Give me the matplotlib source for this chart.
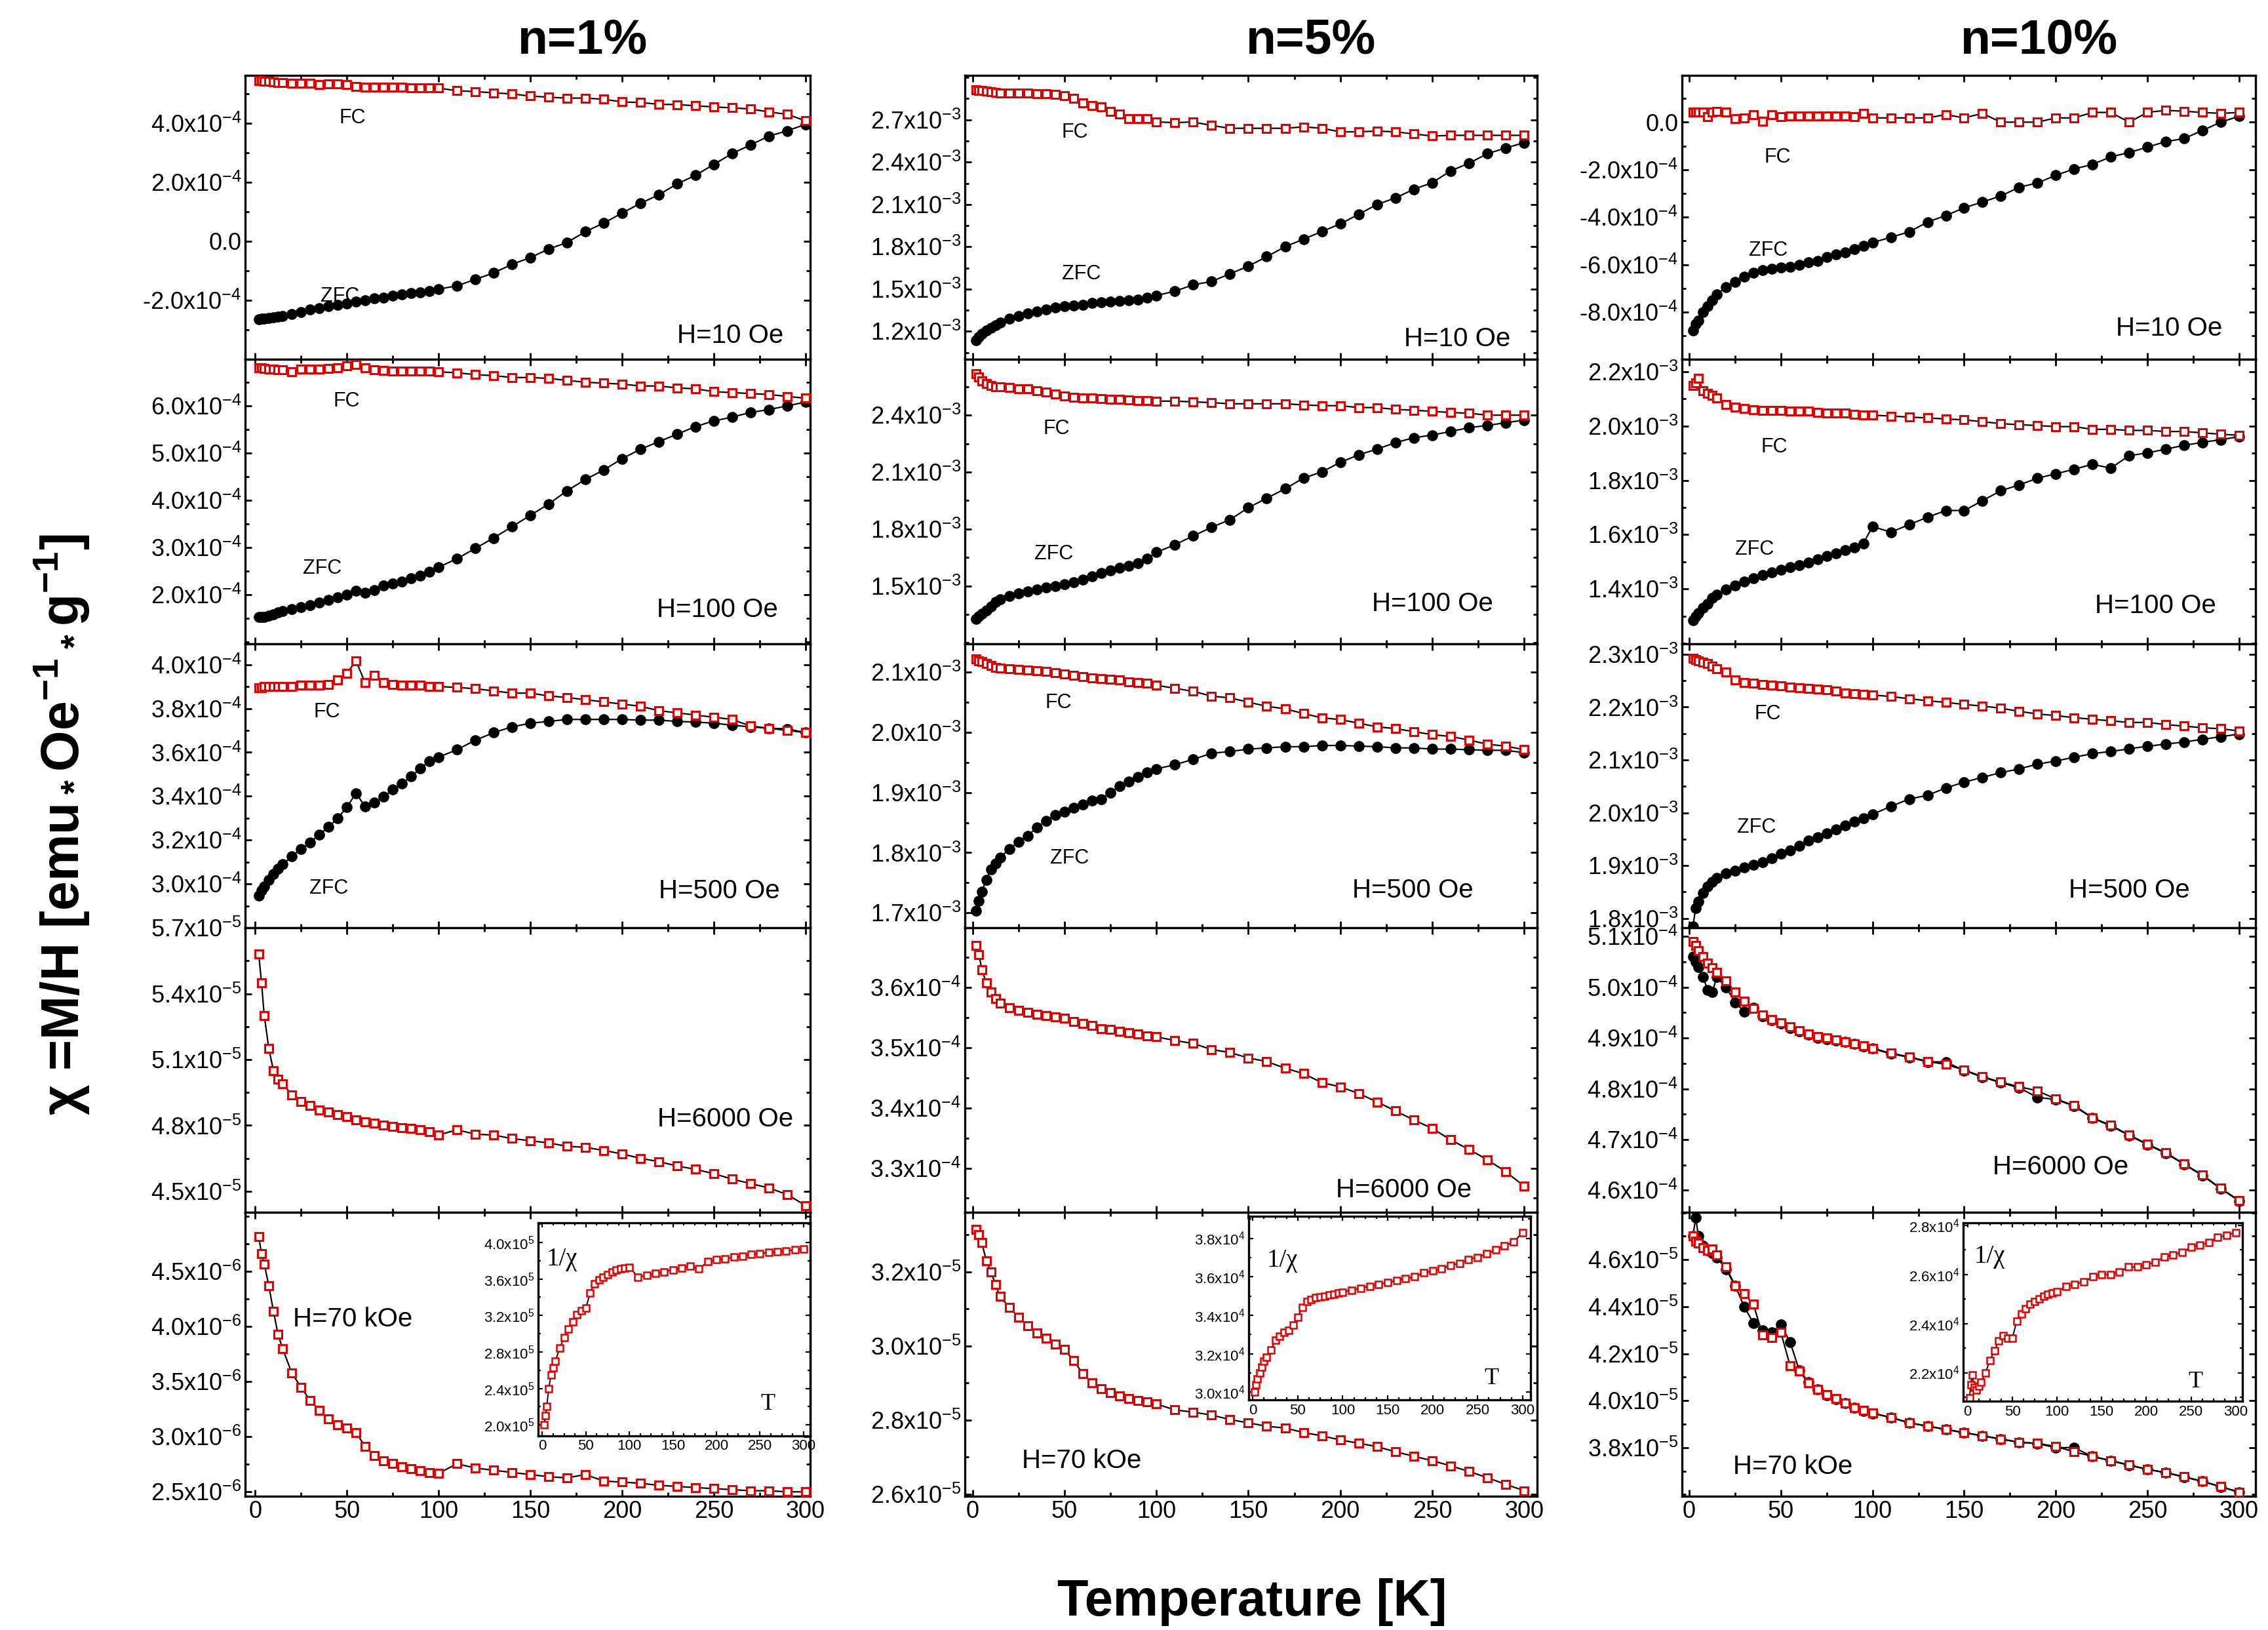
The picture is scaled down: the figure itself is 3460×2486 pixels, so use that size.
import matplotlib
matplotlib.use('Agg')
import matplotlib.pyplot as plt
import numpy as np
from matplotlib.ticker import FixedLocator, FuncFormatter, MultipleLocator

plt.rcParams['font.family'] = ['Liberation Sans', 'DejaVu Sans']
plt.rcParams['mathtext.default'] = 'regular'

RED = '#e00000'

# temperature grid (K), common to all curves
T = [2, 3.5, 5, 7.5, 10, 12.5, 15, 20, 25, 30, 35, 40, 45, 50, 55, 60, 65, 70, 75, 80,
     85, 90, 95, 100, 110, 120, 130, 140, 150, 160, 170, 180, 190, 200, 210, 220, 230,
     240, 250, 260, 270, 280, 290, 300]

# ---------- n = 1 % ----------
fc_n1_h10 = [5.45, 5.45, 5.42, 5.42, 5.40, 5.38, 5.38, 5.36, 5.36, 5.35, 5.30, 5.34, 5.34, 5.30,
             5.25, 5.22, 5.21, 5.21, 5.21, 5.21, 5.20, 5.20, 5.20, 5.19, 5.10, 5.07, 5.03, 4.99,
             4.92, 4.88, 4.85, 4.85, 4.81, 4.72, 4.70, 4.64, 4.63, 4.59, 4.55, 4.52, 4.48, 4.38,
             4.30, 4.08]  # x1e-4
zfc_n1_h10 = [-2.65, -2.64, -2.63, -2.61, -2.59, -2.56, -2.54, -2.48, -2.40, -2.33, -2.28, -2.22,
              -2.16, -2.11, -2.05, -2.00, -1.95, -1.91, -1.86, -1.81, -1.77, -1.74, -1.69, -1.63,
              -1.52, -1.30, -1.08, -0.79, -0.56, -0.27, -0.05, 0.32, 0.61, 0.95, 1.28, 1.57, 1.94,
              2.23, 2.60, 2.97, 3.26, 3.56, 3.74, 3.96]
fc_n1_h100 = [6.80, 6.80, 6.79, 6.78, 6.78, 6.77, 6.77, 6.72, 6.78, 6.78, 6.78, 6.79, 6.80, 6.84,
              6.88, 6.80, 6.76, 6.75, 6.74, 6.74, 6.74, 6.74, 6.73, 6.72, 6.70, 6.66, 6.64, 6.60,
              6.60, 6.58, 6.54, 6.50, 6.48, 6.46, 6.42, 6.42, 6.38, 6.36, 6.30, 6.28, 6.26, 6.24,
              6.20, 6.16]
zfc_n1_h100 = [1.52, 1.52, 1.53, 1.55, 1.58, 1.62, 1.65, 1.69, 1.74, 1.78, 1.83, 1.89, 1.95, 2.00,
               2.08, 2.04, 2.10, 2.20, 2.24, 2.28, 2.34, 2.40, 2.48, 2.58, 2.76, 2.98, 3.20, 3.44,
               3.68, 3.92, 4.20, 4.44, 4.64, 4.88, 5.08, 5.24, 5.40, 5.56, 5.68, 5.76, 5.86, 5.92,
               6.00, 6.08]
fc_n1_h500 = [3.895, 3.895, 3.90, 3.90, 3.90, 3.90, 3.90, 3.90, 3.905, 3.905, 3.905, 3.91, 3.93,
              3.96, 4.017, 3.917, 3.95, 3.917, 3.91, 3.905, 3.905, 3.905, 3.90, 3.90, 3.896, 3.89,
              3.88, 3.87, 3.87, 3.857, 3.85, 3.84, 3.83, 3.82, 3.81, 3.79, 3.78, 3.77, 3.76, 3.75,
              3.72, 3.71, 3.70, 3.69]
zfc_n1_h500 = [2.948, 2.97, 2.99, 3.02, 3.045, 3.07, 3.09, 3.125, 3.16, 3.19, 3.225, 3.26, 3.30,
               3.35, 3.414, 3.353, 3.37, 3.397, 3.43, 3.457, 3.49, 3.526, 3.56, 3.578, 3.612,
               3.655, 3.69, 3.716, 3.733, 3.741, 3.75, 3.75, 3.75, 3.75, 3.747, 3.747, 3.741,
               3.738, 3.733, 3.724, 3.716, 3.71, 3.707, 3.69]
fc_n1_h6000 = [5.58, 5.45, 5.30, 5.15, 5.05, 5.01, 4.99, 4.94, 4.91, 4.89, 4.87, 4.86, 4.85, 4.84,
               4.825, 4.815, 4.81, 4.80, 4.795, 4.79, 4.785, 4.78, 4.77, 4.756, 4.78, 4.76, 4.756,
               4.74, 4.73, 4.72, 4.705, 4.70, 4.686, 4.67, 4.65, 4.635, 4.615, 4.60, 4.58, 4.555,
               4.535, 4.515, 4.485, 4.435]  # x1e-5
fc_n1_h70k = [4.82, 4.66, 4.57, 4.37, 4.14, 3.93, 3.80, 3.58, 3.45, 3.33, 3.24, 3.16, 3.11, 3.08,
              3.04, 2.91, 2.83, 2.78, 2.755, 2.73, 2.71, 2.69, 2.675, 2.667, 2.755, 2.716, 2.696,
              2.676, 2.657, 2.637, 2.627, 2.657, 2.598, 2.588, 2.578, 2.559, 2.549, 2.539, 2.529,
              2.52, 2.51, 2.51, 2.50, 2.50]  # x1e-6
inv_n1 = [2.0, 2.1, 2.2, 2.4, 2.55, 2.63, 2.70, 2.84, 2.96, 3.05, 3.13, 3.21, 3.25, 3.28, 3.45,
          3.55, 3.59, 3.62, 3.65, 3.68, 3.70, 3.71, 3.72, 3.73, 3.62, 3.64, 3.66, 3.68, 3.70,
          3.72, 3.74, 3.71, 3.79, 3.81, 3.82, 3.84, 3.85, 3.87, 3.88, 3.89, 3.90, 3.91, 3.92,
          3.93]  # x1e5

# ---------- n = 5 % ----------
fc_n5_h10 = [2.915, 2.91, 2.91, 2.905, 2.90, 2.895, 2.89, 2.89, 2.89, 2.89, 2.887, 2.885, 2.88,
             2.87, 2.85, 2.82, 2.80, 2.79, 2.76, 2.74, 2.71, 2.71, 2.71, 2.685, 2.68, 2.685, 2.66,
             2.64, 2.64, 2.64, 2.64, 2.65, 2.64, 2.615, 2.615, 2.62, 2.615, 2.60, 2.585, 2.59,
             2.59, 2.59, 2.59, 2.59]  # x1e-3
zfc_n5_h10 = [1.138, 1.16, 1.185, 1.205, 1.223, 1.245, 1.26, 1.29, 1.31, 1.325, 1.34, 1.355,
              1.37, 1.38, 1.385, 1.39, 1.40, 1.405, 1.41, 1.415, 1.42, 1.425, 1.44, 1.454, 1.485,
              1.53, 1.554, 1.608, 1.662, 1.73, 1.80, 1.854, 1.908, 1.962, 2.03, 2.10, 2.146,
              2.208, 2.254, 2.338, 2.392, 2.46, 2.50, 2.538]
fc_n5_h100 = [2.62, 2.60, 2.58, 2.565, 2.555, 2.55, 2.55, 2.545, 2.54, 2.54, 2.53, 2.52, 2.51,
              2.50, 2.495, 2.49, 2.49, 2.488, 2.485, 2.484, 2.48, 2.478, 2.476, 2.474, 2.474, 2.47,
              2.466, 2.46, 2.46, 2.46, 2.46, 2.454, 2.45, 2.45, 2.44, 2.44, 2.43, 2.426, 2.42,
              2.414, 2.41, 2.40, 2.40, 2.40]
zfc_n5_h100 = [1.325, 1.34, 1.355, 1.37, 1.39, 1.415, 1.43, 1.447, 1.462, 1.472, 1.48, 1.49,
               1.50, 1.51, 1.52, 1.532, 1.55, 1.566, 1.58, 1.594, 1.606, 1.618, 1.645, 1.677,
               1.717, 1.763, 1.809, 1.849, 1.912, 1.962, 2.012, 2.068, 2.101, 2.151, 2.191, 2.221,
               2.255, 2.281, 2.295, 2.314, 2.334, 2.346, 2.36, 2.374]
fc_n5_h500 = [2.122, 2.119, 2.117, 2.114, 2.111, 2.108, 2.107, 2.105, 2.104, 2.103, 2.102, 2.101,
              2.099, 2.097, 2.095, 2.092, 2.09, 2.089, 2.088, 2.087, 2.084, 2.083, 2.081, 2.078,
              2.073, 2.068, 2.06, 2.057, 2.05, 2.043, 2.039, 2.031, 2.024, 2.021, 2.015, 2.009,
              2.006, 2.001, 1.996, 1.993, 1.987, 1.98, 1.977, 1.971]
zfc_n5_h500 = [1.703, 1.72, 1.735, 1.755, 1.772, 1.782, 1.792, 1.806, 1.818, 1.828, 1.842, 1.853,
               1.862, 1.868, 1.875, 1.88, 1.886, 1.889, 1.90, 1.911, 1.918, 1.926, 1.933, 1.939,
               1.946, 1.955, 1.965, 1.968, 1.972, 1.974, 1.976, 1.976, 1.978, 1.978, 1.977, 1.976,
               1.974, 1.974, 1.972, 1.972, 1.971, 1.97, 1.97, 1.966]
fc_n5_h6000 = [3.67, 3.655, 3.63, 3.608, 3.593, 3.582, 3.574, 3.566, 3.562, 3.559, 3.556, 3.553,
               3.551, 3.549, 3.544, 3.54, 3.537, 3.532, 3.53, 3.527, 3.525, 3.523, 3.52, 3.518,
               3.512, 3.507, 3.497, 3.492, 3.483, 3.477, 3.466, 3.457, 3.442, 3.435, 3.424, 3.41,
               3.395, 3.38, 3.366, 3.347, 3.331, 3.314, 3.294, 3.27]  # x1e-4
fc_n5_h70k = [3.315, 3.30, 3.279, 3.23, 3.20, 3.165, 3.133, 3.104, 3.077, 3.055, 3.035, 3.02,
              3.005, 2.99, 2.96, 2.925, 2.90, 2.885, 2.874, 2.865, 2.858, 2.852, 2.848, 2.843,
              2.827, 2.821, 2.813, 2.801, 2.792, 2.783, 2.778, 2.766, 2.757, 2.746, 2.737, 2.728,
              2.714, 2.702, 2.69, 2.676, 2.661, 2.644, 2.626, 2.609]  # x1e-5
inv_n5 = [3.00, 3.04, 3.07, 3.10, 3.13, 3.16, 3.18, 3.22, 3.27, 3.29, 3.31, 3.32, 3.35, 3.39,
          3.44, 3.47, 3.48, 3.49, 3.495, 3.50, 3.505, 3.51, 3.515, 3.52, 3.53, 3.54, 3.55, 3.56,
          3.57, 3.58, 3.59, 3.60, 3.62, 3.63, 3.64, 3.66, 3.67, 3.69, 3.70, 3.72, 3.74, 3.76,
          3.78, 3.83]  # x1e4

# ---------- n = 10 % ----------
fc_n10_h10 = [0.41, 0.41, 0.41, 0.41, 0.23, 0.43, 0.46, 0.41, 0.14, 0.18, 0.32, 0.05, 0.32, 0.23,
              0.27, 0.27, 0.27, 0.27, 0.27, 0.27, 0.25, 0.23, 0.37, 0.18, 0.18, 0.18, 0.18, 0.32,
              0.18, 0.37, 0.0, 0.0, 0.0, 0.18, 0.18, 0.41, 0.41, 0.0, 0.41, 0.50, 0.46, 0.41,
              0.37, 0.41]  # x1e-4
zfc_n10_h10 = [-8.78, -8.50, -8.35, -8.00, -7.75, -7.50, -7.25, -6.95, -6.72, -6.50, -6.35, -6.24,
               -6.17, -6.13, -6.10, -6.00, -5.90, -5.85, -5.68, -5.56, -5.49, -5.35, -5.20, -5.07,
               -4.85, -4.62, -4.21, -3.93, -3.61, -3.36, -3.11, -2.74, -2.56, -2.24, -1.97, -1.78,
               -1.46, -1.28, -1.05, -0.82, -0.69, -0.35, 0.0, 0.25]
fc_n10_h100 = [2.15, 2.16, 2.175, 2.13, 2.12, 2.112, 2.103, 2.08, 2.07, 2.064, 2.06, 2.058, 2.058,
               2.058, 2.056, 2.054, 2.054, 2.05, 2.047, 2.047, 2.047, 2.042, 2.04, 2.04, 2.037,
               2.033, 2.03, 2.026, 2.023, 2.016, 2.009, 2.005, 2.002, 1.998, 1.998, 1.988, 1.988,
               1.984, 1.984, 1.98, 1.98, 1.975, 1.97, 1.966]  # x1e-3
zfc_n10_h100 = [1.285, 1.298, 1.31, 1.33, 1.345, 1.367, 1.378, 1.397, 1.412, 1.427, 1.44, 1.451,
                1.462, 1.47, 1.479, 1.488, 1.497, 1.509, 1.521, 1.532, 1.542, 1.553, 1.568, 1.63,
                1.609, 1.637, 1.664, 1.689, 1.689, 1.725, 1.762, 1.783, 1.808, 1.824, 1.841,
                1.859, 1.845, 1.891, 1.901, 1.915, 1.929, 1.94, 1.95, 1.961]
fc_n10_h500 = [2.292, 2.29, 2.288, 2.285, 2.282, 2.278, 2.273, 2.266, 2.252, 2.247, 2.245, 2.243,
               2.242, 2.24, 2.238, 2.237, 2.235, 2.234, 2.233, 2.23, 2.227, 2.225, 2.224, 2.223,
               2.22, 2.216, 2.212, 2.209, 2.205, 2.202, 2.198, 2.192, 2.187, 2.184, 2.18, 2.177,
               2.174, 2.171, 2.171, 2.167, 2.164, 2.161, 2.159, 2.155]
zfc_n10_h500 = [1.785, 1.82, 1.832, 1.848, 1.86, 1.869, 1.876, 1.885, 1.89, 1.896, 1.901, 1.907,
                1.914, 1.922, 1.929, 1.938, 1.947, 1.954, 1.961, 1.969, 1.976, 1.983, 1.99, 1.997,
                2.012, 2.026, 2.033, 2.047, 2.058, 2.067, 2.076, 2.083, 2.092, 2.098, 2.105,
                2.112, 2.116, 2.121, 2.126, 2.13, 2.134, 2.139, 2.144, 2.149]
fc_n10_h6000 = [5.09, 5.082, 5.072, 5.06, 5.047, 5.038, 5.03, 5.012, 4.99, 4.972, 4.958, 4.946,
                4.937, 4.93, 4.922, 4.915, 4.908, 4.903, 4.90, 4.896, 4.893, 4.889, 4.885, 4.88,
                4.87, 4.863, 4.854, 4.848, 4.837, 4.824, 4.813, 4.804, 4.796, 4.78, 4.767, 4.743,
                4.728, 4.709, 4.691, 4.674, 4.652, 4.63, 4.604, 4.58]  # x1e-4
zfc_n10_h6000 = [5.06, 5.05, 5.04, 5.02, 4.995, 4.99, 5.02, 5.0, 4.97, 4.952, 4.959, 4.943, 4.935,
                 4.928, 4.92, 4.913, 4.906, 4.90, 4.898, 4.895, 4.892, 4.888, 4.884, 4.879, 4.869,
                 4.862, 4.853, 4.853, 4.836, 4.823, 4.812, 4.802, 4.783, 4.779, 4.766, 4.742,
                 4.727, 4.708, 4.69, 4.673, 4.651, 4.629, 4.603, 4.579]
fc_n10_h70k = [4.70, 4.68, 4.67, 4.65, 4.64, 4.645, 4.62, 4.57, 4.49, 4.455, 4.41, 4.28, 4.27,
               4.29, 4.149, 4.126, 4.076, 4.048, 4.025, 4.008, 3.99, 3.97, 3.958, 3.947, 3.929,
               3.906, 3.892, 3.878, 3.864, 3.851, 3.837, 3.823, 3.818, 3.805, 3.782, 3.763, 3.745,
               3.726, 3.708, 3.694, 3.676, 3.657, 3.634, 3.611]  # x1e-5
zfc_n10_h70k = [4.70, 4.78, 4.70, 4.66, 4.64, 4.63, 4.61, 4.56, 4.49, 4.40, 4.33, 4.30, 4.29,
                4.324, 4.25, 4.13, 4.08, 4.048, 4.024, 4.007, 3.989, 3.969, 3.957, 3.946, 3.928,
                3.905, 3.891, 3.877, 3.863, 3.85, 3.836, 3.823, 3.817, 3.80, 3.80, 3.762, 3.744,
                3.725, 3.707, 3.693, 3.675, 3.656, 3.633, 3.61]
inv_n10 = [2.098, 2.15, 2.19, 2.14, 2.13, 2.145, 2.16, 2.20, 2.25, 2.29, 2.33, 2.35, 2.34, 2.34,
           2.41, 2.44, 2.46, 2.48, 2.49, 2.50, 2.51, 2.52, 2.525, 2.53, 2.55, 2.56, 2.57, 2.59,
           2.60, 2.60, 2.61, 2.63, 2.63, 2.64, 2.65, 2.67, 2.68, 2.69, 2.71, 2.72, 2.73, 2.75,
           2.76, 2.77]  # x1e4

col_titles = ['n=1%', 'n=5%', 'n=10%']
x_ticks = [0, 50, 100, 150, 200, 250, 300]

# row, col, FC, ZFC, exponent, ylim, major ticks, minor step, field label (x, y), FC label, ZFC label
panels = [
    (0, 0, fc_n1_h10, zfc_n1_h10, -4, (-4.02, 5.62), [-2, 0, 2, 4], 1.0,
     ('H=10 Oe', 0.859, 0.083), (0.19, 0.85), (0.168, 0.222)),
    (1, 0, fc_n1_h100, zfc_n1_h100, -4, (0.96, 6.98), [2, 3, 4, 5, 6], 0.5,
     ('H=100 Oe', 0.836, 0.12), (0.18, 0.853), (0.136, 0.265)),
    (2, 0, fc_n1_h500, zfc_n1_h500, -4, (2.80, 4.095), [3.0, 3.2, 3.4, 3.6, 3.8, 4.0], 0.1,
     ('H=500 Oe', 0.839, 0.13), (0.145, 0.76), (0.148, 0.14)),
    (3, 0, fc_n1_h6000, None, -5, (4.405, 5.70), [4.5, 4.8, 5.1, 5.4, 5.7], 0.15,
     ('H=6000 Oe', 0.85, 0.326), None, None),
    (4, 0, fc_n1_h70k, None, -6, (2.46, 5.04), [2.5, 3.0, 3.5, 4.0, 4.5], 0.25,
     ('H=70 kOe', 0.19, 0.624), None, None),
    (0, 1, fc_n5_h10, zfc_n5_h10, -3, (1.0, 3.015), [1.2, 1.5, 1.8, 2.1, 2.4, 2.7], 0.15,
     ('H=10 Oe', 0.861, 0.072), (0.192, 0.80), (0.204, 0.30)),
    (1, 1, fc_n5_h100, zfc_n5_h100, -3, (1.195, 2.693), [1.5, 1.8, 2.1, 2.4], 0.15,
     ('H=100 Oe', 0.817, 0.14), (0.16, 0.756), (0.155, 0.316)),
    (2, 1, fc_n5_h500, zfc_n5_h500, -3, (1.675, 2.147), [1.7, 1.8, 1.9, 2.0, 2.1], 0.05,
     ('H=500 Oe', 0.783, 0.132), (0.164, 0.793), (0.183, 0.246)),
    (3, 1, fc_n5_h6000, None, -4, (3.227, 3.699), [3.3, 3.4, 3.5, 3.6], 0.05,
     ('H=6000 Oe', 0.767, 0.077), None, None),
    (4, 1, fc_n5_h70k, None, -5, (2.594, 3.361), [2.6, 2.8, 3.0, 3.2], 0.1,
     ('H=70 kOe', 0.204, 0.125), None, None),
    (0, 2, fc_n10_h10, zfc_n10_h10, -4, (-10.0, 1.97), [-8, -6, -4, -2, 0], 1.0,
     ('H=10 Oe', 0.849, 0.11), (0.167, 0.711), (0.15, 0.383)),
    (1, 2, fc_n10_h100, zfc_n10_h100, -3, (1.198, 2.245), [1.4, 1.6, 1.8, 2.0, 2.2], 0.1,
     ('H=100 Oe', 0.826, 0.133), (0.161, 0.691), (0.126, 0.332)),
    (2, 2, fc_n10_h500, zfc_n10_h500, -3, (1.782, 2.32), [1.8, 1.9, 2.0, 2.1, 2.2, 2.3], 0.05,
     ('H=500 Oe', 0.78, 0.132), (0.15, 0.753), (0.13, 0.353)),
    (3, 2, fc_n10_h6000, zfc_n10_h6000, -4, (4.557, 5.117), [4.6, 4.7, 4.8, 4.9, 5.0, 5.1], 0.05,
     ('H=6000 Oe', 0.66, 0.158), None, None),
    (4, 2, fc_n10_h70k, zfc_n10_h70k, -5, (3.593, 4.803), [3.8, 4.0, 4.2, 4.4, 4.6], 0.1,
     ('H=70 kOe', 0.193, 0.103), None, None),
]

# inverse susceptibility insets: col, data, exponent, ylim, ticks, minor, rect, 1/chi pos, T pos
insets = [
    (0, inv_n1, 5, (1.88, 4.216), [2.0, 2.4, 2.8, 3.2, 3.6, 4.0], 0.2,
     [0.2373, 0.1191, 0.1199, 0.1307], (-4.7, 307.6), (0.03, 0.83), (0.845, 0.15)),
    (1, inv_n5, 4, (2.96, 3.914), [3.0, 3.2, 3.4, 3.6, 3.8], 0.1,
     [0.5506, 0.1412, 0.1243, 0.1126], (-4.5, 309), (0.065, 0.76), (0.86, 0.115)),
    (2, inv_n10, 4, (2.084, 2.81), [2.2, 2.4, 2.6, 2.8], 0.1,
     [0.8656, 0.1404, 0.1231, 0.1094], (-5, 307.5), (0.04, 0.81), (0.833, 0.11)),
]

col_left = [0.1081, 0.4254, 0.7416]
col_width = [0.2491, 0.2523, 0.2529]
col_xlim = [(-5.4, 302.5), (-4.2, 307), (-4, 309)]
top, bottom = 0.95374, 0.08206
row_h = (top - bottom) / 5


def sci_fmt(exp):
    def f(v, pos):
        m = v / 10.0 ** exp
        if abs(m) < 1e-9:
            return '0.0'
        return '%.1fx10$^{%d}$' % (m, exp)
    return FuncFormatter(f)


def style_axis(ax, size, length, width):
    ax.tick_params(which='both', direction='in', top=True, right=True, width=width,
                   labelsize=size, pad=2)
    ax.tick_params(which='major', length=length)
    ax.tick_params(which='minor', length=length * 0.6)
    for sp in ax.spines.values():
        sp.set_linewidth(1.2)


fig = plt.figure(figsize=(17.3, 12.43), dpi=200)

for (row, col, fc, zfc, exp, ylim, yt, ymin, hlab, fcpos, zfcpos) in panels:
    ax = fig.add_axes([col_left[col], top - (row + 1) * row_h, col_width[col], row_h])
    sc = 10.0 ** exp
    if zfc is not None:
        ax.plot(T, np.array(zfc) * sc, color='black', lw=0.8, marker='o', ms=5,
                mfc='black', mec='black', zorder=2)
    ax.plot(T, np.array(fc) * sc, color='black', lw=0.8, marker='s', ms=4.5,
            mfc='white', mec=RED, mew=1.1, zorder=3)
    ax.set_xlim(*col_xlim[col])
    ax.set_ylim(ylim[0] * sc, ylim[1] * sc)
    ax.xaxis.set_major_locator(FixedLocator(x_ticks))
    ax.xaxis.set_minor_locator(MultipleLocator(25))
    ax.yaxis.set_major_locator(FixedLocator([v * sc for v in yt]))
    ax.yaxis.set_minor_locator(MultipleLocator(ymin * sc))
    ax.yaxis.set_major_formatter(sci_fmt(exp))
    style_axis(ax, 13, 3.6, 1.0)
    if row < 4:
        ax.tick_params(labelbottom=False)
    ax.text(hlab[1], hlab[2], hlab[0], transform=ax.transAxes, fontsize=14.5,
            ha='center', va='center')
    if fcpos is not None:
        ax.text(fcpos[0], fcpos[1], 'FC', transform=ax.transAxes, fontsize=11,
                ha='center', va='center')
        ax.text(zfcpos[0], zfcpos[1], 'ZFC', transform=ax.transAxes, fontsize=11,
                ha='center', va='center')

for (col, inv, exp, ylim, yt, ymin, rect, xlim, chipos, tpos) in insets:
    ax = fig.add_axes(rect)
    sc = 10.0 ** exp
    ax.plot(T, np.array(inv) * sc, color='black', lw=0.7, marker='s', ms=3.5,
            mfc='white', mec=RED, mew=0.9)
    ax.set_xlim(*xlim)
    ax.set_ylim(ylim[0] * sc, ylim[1] * sc)
    ax.xaxis.set_major_locator(FixedLocator(x_ticks))
    ax.xaxis.set_minor_locator(MultipleLocator(12.5))
    ax.yaxis.set_major_locator(FixedLocator([v * sc for v in yt]))
    ax.yaxis.set_minor_locator(MultipleLocator(ymin * sc))
    ax.yaxis.set_major_formatter(sci_fmt(exp))
    style_axis(ax, 8, 2.6, 0.8)
    ax.text(chipos[0], chipos[1], '1/χ', transform=ax.transAxes, fontsize=14,
            family='Liberation Serif', ha='left', va='center')
    ax.text(tpos[0], tpos[1], 'T', transform=ax.transAxes, fontsize=13,
            family='Liberation Serif', ha='center', va='center')

for x, title in zip([0.257, 0.578, 0.899], col_titles):
    fig.text(x, 0.975, title, fontsize=27, fontweight='bold', ha='center', va='center')

fig.text(0.552, 0.017, 'Temperature [K]', fontsize=28, fontweight='bold',
         ha='center', va='center')
fig.text(0.027, 0.494, 'χ =M/H [emu$_*$Oe$^{-1}$$_*$g$^{-1}$]', fontsize=29,
         fontweight='bold', rotation=90, ha='center', va='center')

fig.savefig('out.png', dpi=200)
